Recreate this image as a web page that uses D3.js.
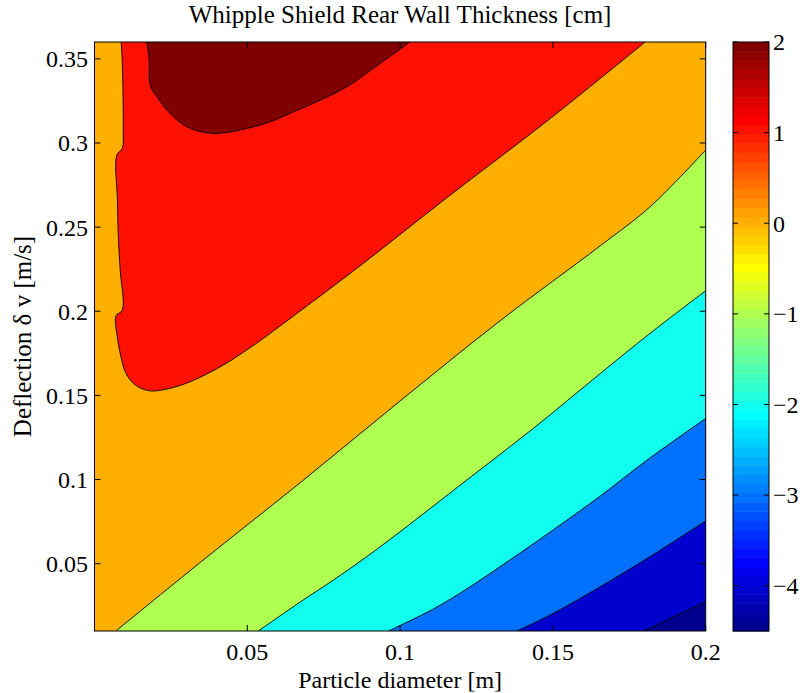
<!DOCTYPE html>
<html>
<head>
<meta charset="utf-8">
<script src="https://cdn.jsdelivr.net/npm/d3@7"></script>
<style>
  body { margin: 0; background: #fff; }
  text { font-family: "Liberation Serif", "Times New Roman", serif; fill: #000; }
</style>
</head>
<body>
<svg id="chart" width="803" height="693"></svg>
<script>

// axis ranges and ticks
const xDomain = [0, 0.2];
const yDomain = [0.01, 0.36];
const cLim = [-4.5, 2];
const xTicks = [0.05, 0.1, 0.15, 0.2];
const yTicks = [0.05, 0.1, 0.15, 0.2, 0.25, 0.3, 0.35];
const cTicks = [-4, -3, -2, -1, 0, 1, 2];

// contour levels (cm) and the traced iso-lines, [diameter m, delta v m/s]
const levels = [-4, -3, -2, -1, 0, 1, 2];

const contourM4 = [[0.1796, 0.01], [0.1900, 0.0189], [0.2000, 0.0274]];
const contourM3 = [[0.1382, 0.01], [0.1491, 0.0195], [0.1655, 0.0363], [0.1818, 0.0542], [0.2000, 0.0754]];
const contourM2 = [[0.0962, 0.01], [0.1109, 0.0231], [0.1218, 0.0350], [0.1327, 0.0482], [0.1491, 0.0688],
  [0.1655, 0.0902], [0.1804, 0.1110], [0.2000, 0.1363]];
const contourM1 = [[0.0536, 0.01], [0.0673, 0.0272], [0.0782, 0.0403], [0.0891, 0.0542], [0.1000, 0.0690],
  [0.1218, 0.0997], [0.1436, 0.1304], [0.1655, 0.1630], [0.1818, 0.1869], [0.2000, 0.2122]];
const contour0 = [[0.0070, 0.01], [0.0345, 0.0506], [0.0673, 0.0981], [0.1000, 0.1467], [0.1327, 0.1943],
  [0.1655, 0.2389], [0.1818, 0.2621], [0.2000, 0.2958]];
const contour1 = [[0.0087, 0.36], [0.0091, 0.3473], [0.0094, 0.3077], [0.0091, 0.2968], [0.0073, 0.2928],
  [0.0075, 0.2661], [0.0078, 0.2443], [0.0084, 0.2245], [0.0091, 0.2007], [0.0070, 0.1972],
  [0.0073, 0.1869], [0.0089, 0.1710], [0.0103, 0.1631], [0.0127, 0.1572], [0.0160, 0.1536],
  [0.0193, 0.1526], [0.0247, 0.1542], [0.0313, 0.1581], [0.0422, 0.1681], [0.0531, 0.1811],
  [0.0607, 0.1912], [0.0879, 0.2284], [0.1154, 0.2676], [0.1485, 0.3136], [0.1802, 0.36]];
const contour2 = [[0.0171, 0.36], [0.0179, 0.3493], [0.0182, 0.3344], [0.0204, 0.3275], [0.0258, 0.3156],
  [0.0313, 0.3087], [0.0389, 0.3057], [0.0476, 0.3077], [0.0575, 0.3126], [0.0640, 0.3176],
  [0.0716, 0.3236], [0.0826, 0.3334], [0.0935, 0.3473], [0.1033, 0.36]];

const contours = [contourM4, contourM3, contourM2, contourM1, contour0, contour1, contour2];

const title = 'Whipple Shield Rear Wall Thickness [cm]';
const xLabel = 'Particle diameter [m]';
const yLabel = 'Deflection \u03b4 v [m/s]';

// MATLAB style jet colormap, 64 entries
function jetMap(n) {
  const m = Math.ceil(n / 4);
  const u = [];
  for (let i = 1; i <= m; i++) u.push(i / m);
  for (let i = 1; i < m; i++) u.push(1);
  for (let i = m; i >= 1; i--) u.push(i / m);
  const off = Math.ceil(m / 2) - (n % 4 === 1 ? 1 : 0);
  const map = d3.range(n).map(() => [0, 0, 0]);
  u.forEach((v, k) => {
    const g = off + k + 1;
    [[g + m, 0], [g, 1], [g - m, 2]].forEach(([idx, ch]) => {
      if (idx >= 1 && idx <= n) map[idx - 1][ch] = v;
    });
  });
  return map.map((c) => d3.rgb(c[0] * 255, c[1] * 255, c[2] * 255).formatHex());
}

const jet = jetMap(64);
const colorOf = (v) => {
  const idx = Math.floor((v - cLim[0]) / (cLim[1] - cLim[0]) * 64);
  return jet[Math.max(0, Math.min(63, idx))];
};

const PLOT = { left: 94.5, right: 705.7, top: 42, bottom: 631 };
const CBAR = { left: 733, right: 769 };

const svg = d3.select('#chart');

const x = d3.scaleLinear().domain(xDomain).range([PLOT.left, PLOT.right]);
const y = d3.scaleLinear().domain(yDomain).range([PLOT.bottom, PLOT.top]);
const c = d3.scaleLinear().domain(cLim).range([PLOT.bottom, PLOT.top]);

svg.append('defs').append('clipPath')
  .attr('id', 'plot-clip')
  .append('rect')
    .attr('x', PLOT.left)
    .attr('y', PLOT.top)
    .attr('width', PLOT.right - PLOT.left)
    .attr('height', PLOT.bottom - PLOT.top);

const line = d3.line()
  .x((d) => x(d[0]))
  .y((d) => y(d[1]))
  .curve(d3.curveCatmullRom.alpha(0.5));

// region >= level: lines ending on the right edge are closed through the upper-left corners,
// lines ending on the top edge close along the top
const regionPath = (pts) => {
  let p = line(pts);
  const last = pts[pts.length - 1];
  if (last[0] >= xDomain[1]) {
    p += `L${x(xDomain[1])},${y(yDomain[1])}L${x(xDomain[0])},${y(yDomain[1])}L${x(xDomain[0])},${y(yDomain[0])}`;
  }
  return p + 'Z';
};

const plot = svg.append('g').attr('clip-path', 'url(#plot-clip)');

plot.append('rect')
  .attr('x', PLOT.left)
  .attr('y', PLOT.top)
  .attr('width', PLOT.right - PLOT.left)
  .attr('height', PLOT.bottom - PLOT.top)
  .attr('fill', colorOf(cLim[0]));

plot.selectAll('.band')
  .data(contours)
  .enter().append('path')
    .classed('band', true)
    .attr('d', (d) => regionPath(d))
    .attr('fill', (d, i) => colorOf(levels[i]))
    .attr('stroke', 'none');

plot.selectAll('.iso')
  .data(contours)
  .enter().append('path')
    .classed('iso', true)
    .attr('d', (d) => line(d))
    .attr('fill', 'none')
    .attr('stroke', '#000')
    .attr('stroke-width', 0.9);

// axes box and inward ticks
const TICK = 6;
const axes = svg.append('g').attr('stroke', '#000').attr('stroke-width', 1);

axes.selectAll('.xt')
  .data(xTicks)
  .enter().append('path')
    .attr('d', (d) => `M${x(d)},${PLOT.bottom}v${-TICK}M${x(d)},${PLOT.top}v${TICK}`);

axes.selectAll('.yt')
  .data(yTicks)
  .enter().append('path')
    .attr('d', (d) => `M${PLOT.left},${y(d)}h${TICK}M${PLOT.right},${y(d)}h${-TICK}`);

axes.append('rect')
  .attr('x', PLOT.left)
  .attr('y', PLOT.top)
  .attr('width', PLOT.right - PLOT.left)
  .attr('height', PLOT.bottom - PLOT.top)
  .attr('fill', 'none');

const fmt = d3.format('~g');

svg.append('g').selectAll('text')
  .data(xTicks)
  .enter().append('text')
    .attr('x', (d) => x(d))
    .attr('y', 660)
    .attr('text-anchor', 'middle')
    .attr('font-size', 24)
    .text((d) => fmt(d));

svg.append('g').selectAll('text')
  .data(yTicks)
  .enter().append('text')
    .attr('x', 88)
    .attr('y', (d) => y(d))
    .attr('dy', '0.35em')
    .attr('text-anchor', 'end')
    .attr('font-size', 24)
    .text((d) => fmt(d));

svg.append('text')
  .attr('x', (PLOT.left + PLOT.right) / 2)
  .attr('y', 23)
  .attr('text-anchor', 'middle')
  .attr('font-size', 25)
  .text(title);

svg.append('text')
  .attr('x', (PLOT.left + PLOT.right) / 2)
  .attr('y', 688)
  .attr('text-anchor', 'middle')
  .attr('font-size', 24)
  .text(xLabel);

svg.append('text')
  .attr('transform', `translate(31, ${(PLOT.top + PLOT.bottom) / 2}) rotate(-90)`)
  .attr('text-anchor', 'middle')
  .attr('font-size', 25)
  .text(yLabel);

// colorbar
const steps = d3.range(64);
const stepH = (cLim[1] - cLim[0]) / 64;

svg.append('g').selectAll('rect')
  .data(steps)
  .enter().append('rect')
    .attr('x', CBAR.left)
    .attr('width', CBAR.right - CBAR.left)
    .attr('y', (k) => c(cLim[0] + (k + 1) * stepH))
    .attr('height', (k) => c(cLim[0] + k * stepH) - c(cLim[0] + (k + 1) * stepH) + 0.5)
    .attr('fill', (k) => jet[k]);

const cax = svg.append('g').attr('stroke', '#000').attr('stroke-width', 1);

cax.selectAll('path')
  .data(cTicks)
  .enter().append('path')
    .attr('d', (d) => `M${CBAR.left},${c(d)}h5M${CBAR.right},${c(d)}h-5`);

cax.append('rect')
  .attr('x', CBAR.left)
  .attr('y', PLOT.top)
  .attr('width', CBAR.right - CBAR.left)
  .attr('height', PLOT.bottom - PLOT.top)
  .attr('fill', 'none');

svg.append('g').selectAll('text')
  .data(cTicks)
  .enter().append('text')
    .attr('x', 773)
    .attr('y', (d) => c(d))
    .attr('dy', '0.35em')
    .attr('font-size', 24)
    .text((d) => d3.format('d')(d));

</script>
</body>
</html>
